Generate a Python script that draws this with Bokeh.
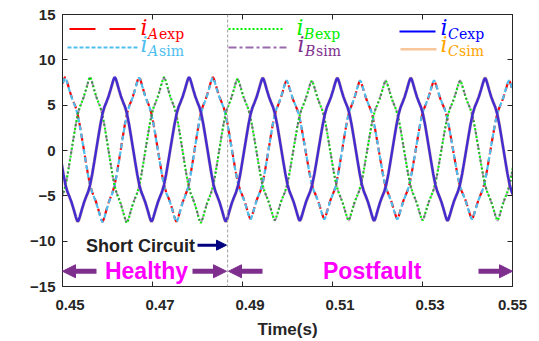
import numpy as np
from bokeh.plotting import figure
from bokeh.models import (Range1d, LinearAxis, FixedTicker, Span, Label, Arrow,
                          NormalHead, ColumnDataSource, CustomJSTickFormatter)
from bokeh.embed import file_html
from bokeh.resources import INLINE

# ---------------- data ----------------
# extrema (peak / trough) times in seconds and values in A for each phase
a_t = [0.44244, 0.45058, 0.45889, 0.46702, 0.47533, 0.48340, 0.49178, 0.49978,
       0.50818, 0.51613, 0.52440, 0.53258, 0.54100, 0.54924, 0.55740]
a_exp_v = [-7.85, 8.1, -7.85, 8.1, -7.85, 8.1, -7.55, 7.7, -7.55, 7.7, -7.55, 7.7, -7.55, 7.7, -7.55]
a_sim_v = [-7.9, 8.05, -7.9, 8.05, -7.9, 8.05, -7.6, 7.75, -7.6, 7.75, -7.6, 7.75, -7.6, 7.75, -7.6]

b_t = [0.44791, 0.45613, 0.46429, 0.47258, 0.48073, 0.48889, 0.49718, 0.50540,
       0.51356, 0.52184, 0.53000, 0.53836, 0.54667, 0.55473]
b_exp_v = [-8.0, 8.1, -8.0, 8.1, -8.0, 7.9, -7.7, 7.7, -7.7, 7.7, -7.7, 7.7, -7.7, 7.7]
b_sim_v = [-7.95, 8.05, -7.95, 8.05, -7.95, 7.95, -7.75, 7.75, -7.75, 7.75, -7.75, 7.75, -7.75, 7.75]

c_t = [0.44518, 0.45340, 0.46162, 0.46978, 0.47813, 0.48629, 0.49451, 0.50273,
       0.51107, 0.51924, 0.52740, 0.53556, 0.54391, 0.55207]
c_exp_v = [8.1, -7.85, 8.1, -7.85, 8.1, -7.85, 8.0, -7.75, 8.0, -7.75, 8.0, -7.75, 8.0, -7.75]
c_sim_v = [8.05, -7.9, 8.05, -7.9, 8.05, -7.9, 8.05, -7.8, 8.05, -7.8, 8.05, -7.8, 8.05, -7.8]

# quarter-wave shape (angle from zero crossing in degrees, fraction of peak)
shape_deg = [0, 10, 20, 30, 40, 50, 60, 70, 80, 85, 90]
shape_val = [0.0, 0.175, 0.345, 0.49, 0.59, 0.66, 0.735, 0.83, 0.93, 0.975, 1.0]

fault_time = 0.4867

x_ticks = [0.45, 0.47, 0.49, 0.51, 0.53, 0.55]
x_tick_labels = ["0.45", "0.47", "0.49", "0.51", "0.53", "0.55"]
y_ticks = [-15, -10, -5, 0, 5, 10, 15]

# ---------------- build polylines between read extrema ----------------
full_deg = [-d for d in reversed(shape_deg[1:])] + shape_deg
full_val = [-v for v in reversed(shape_val[1:])] + shape_val


def build(ts, vs):
    xs, ys = [], []
    for k in range(len(ts) - 1):
        t0, t1, v0, v1 = ts[k], ts[k + 1], vs[k], vs[k + 1]
        mid, half = (v0 + v1) / 2.0, (v1 - v0) / 2.0
        for j, (d, f) in enumerate(zip(full_deg, full_val)):
            if k > 0 and j == 0:
                continue
            xs.append(t0 + (d + 90.0) / 180.0 * (t1 - t0))
            ys.append(mid + half * f)
    return xs, ys


RED, LBLUE, GREEN, PURPLE, BLUE, ORANGE = "#ff0000", "#4dbeee", "#00ee00", "#7e2f8e", "#0000ff", "#ffa500"
AX = "#262626"
FONT = "Liberation Sans"
PX_PER_S = 4500.0   # frame width 450 px for 0.1 s
PX_PER_A = 9.1      # frame height 273 px for 30 A
X_MIN, X_MAX = 0.45, 0.55

p = figure(width=539, height=341, output_backend="svg", toolbar_location=None,
           x_range=Range1d(X_MIN, X_MAX), y_range=Range1d(-15, 15),
           min_border_left=62, min_border_right=27, min_border_top=14, min_border_bottom=54)
p.xgrid.visible = False
p.ygrid.visible = False
p.background_fill_color = "white"
p.border_fill_color = "white"
p.outline_line_color = AX

series = [
    (a_t, a_exp_v, dict(line_color=RED, line_width=2.2, line_dash="7 4")),
    (a_t, a_sim_v, dict(line_color=LBLUE, line_width=2.2, line_dash="5 3")),
    (b_t, b_exp_v, dict(line_color=GREEN, line_width=2.2, line_dash="2 2")),
    (b_t, b_sim_v, dict(line_color=PURPLE, line_width=1.8, line_dash="6 3 2 3", line_alpha=0.55)),
    (c_t, c_exp_v, dict(line_color=BLUE, line_width=2.6)),
    (c_t, c_sim_v, dict(line_color="#f5a050", line_width=3.6, line_alpha=0.28)),
]
for ts, vs, style in series:
    xs, ys = build(ts, vs)
    p.line(x="x", y="y", source=ColumnDataSource(dict(x=xs, y=ys)), **style)

# fault instant
p.add_layout(Span(location=fault_time, dimension="height", line_color="#a0a0a0",
                  line_width=1, line_dash="3 2"))

# ---------------- axes ----------------
blank = CustomJSTickFormatter(code="return ''")

# bottom axis: labels sit ~7.5 px right of their ticks in the picture
label_shift = 7.5 / PX_PER_S
shifted = [min(t + label_shift, X_MAX) for t in x_ticks]
xa = p.xaxis[0]
xa.ticker = FixedTicker(ticks=shifted)
xa.formatter = CustomJSTickFormatter(
    args=dict(pos=shifted, labels=x_tick_labels),
    code="for (let i = 0; i < pos.length; i++) { if (Math.abs(pos[i] - tick) < 1e-7) return labels[i]; } return '';")
xa.axis_line_color = AX
xa.major_tick_line_color = None
xa.minor_tick_line_color = None
xa.major_tick_in = 0
xa.major_tick_out = 0
xa.major_label_text_font = FONT
xa.major_label_text_font_style = "bold"
xa.major_label_text_font_size = "15px"
xa.major_label_text_color = AX
xa.major_label_standoff = 13
xa.axis_label = "Time(s)"
xa.axis_label_text_font = FONT
xa.axis_label_text_font_style = "bold"
xa.axis_label_text_font_size = "17px"
xa.axis_label_text_color = AX
xa.axis_label_standoff = 7

# inward bottom ticks at the real tick positions
for t in x_ticks:
    p.add_layout(Arrow(end=None, x_start=t, x_end=t, y_start=-15, y_end=-15 + 5 / PX_PER_A,
                       line_color=AX, line_width=1))

ya_ = p.yaxis[0]
ya_.ticker = FixedTicker(ticks=y_ticks)
ya_.axis_line_color = AX
ya_.major_tick_line_color = AX
ya_.major_tick_in = 5
ya_.major_tick_out = 0
ya_.minor_tick_line_color = None
ya_.major_label_text_font = FONT
ya_.major_label_text_font_style = "bold"
ya_.major_label_text_font_size = "15px"
ya_.major_label_text_color = AX
ya_.major_label_standoff = 7

top_ax = LinearAxis(ticker=FixedTicker(ticks=x_ticks), formatter=blank)
right_ax = LinearAxis(ticker=FixedTicker(ticks=y_ticks), formatter=blank)
for ax in (top_ax, right_ax):
    ax.axis_line_color = AX
    ax.major_tick_line_color = AX
    ax.major_tick_in = 5
    ax.major_tick_out = 0
    ax.minor_tick_line_color = None
    ax.major_label_standoff = 0
p.add_layout(top_ax, "above")
p.add_layout(right_ax, "right")


# ---------------- annotations (positions in pixels of the 539x341 picture) ----------------
def tx(px):
    return X_MIN + (px - 62) / PX_PER_S


def vy(py):
    return (150.5 - py) / PX_PER_A


p.add_layout(Label(x=tx(17), y=vy(118.5), text="Three phase currents(A)", angle=np.pi / 2,
                   text_align="center", text_baseline="middle", text_font=FONT,
                   text_font_style="bold", text_font_size="13px", text_color=AX))

# legend
legend_rows = [
    # (line x0, x1, y, color, dash, width, alpha, i_x, letter, rest, text color, row)
    (69, 137, 28.5, RED, "26 14", 2, 1.0, 140, "A", "exp", RED, 0),
    (67, 137, 47, LBLUE, "4 2", 2, 1.0, 140, "A", "sim", LBLUE, 1),
    (228, 282, 28.5, GREEN, "2 2", 2, 1.0, 296, "B", "exp", GREEN, 0),
    (228, 286, 47, "#9a6aae", "8 3 3 3", 2, 1.0, 297, "B", "sim", PURPLE, 1),
    (399, 435, 31, BLUE, "solid", 2, 1.0, 440, "C", "exp", BLUE, 0),
    (400, 436, 49, "#f5a05a", "solid", 2.5, 0.6, 440, "C", "sim", ORANGE, 1),
]
for x0, x1, yl, col, dash, lw, la, ix, letter, rest, tcol, row in legend_rows:
    p.add_layout(Arrow(end=None, x_start=tx(x0), x_end=tx(x1), y_start=vy(yl), y_end=vy(yl),
                       line_color=col, line_width=lw, line_dash=dash, line_alpha=la))
    im = 27.5 if row == 0 else 44.5
    sm = 34 if row == 0 else 50.5
    p.add_layout(Label(x=tx(ix), y=vy(im), text="i", text_font="DejaVu Serif",
                       text_font_style="italic", text_font_size="22px", text_color=tcol,
                       text_baseline="middle", text_align="left"))
    p.add_layout(Label(x=tx(ix + 7.5), y=vy(sm), text=letter, text_font="DejaVu Serif",
                       text_font_style="italic", text_font_size="14px", text_color=tcol,
                       text_baseline="middle", text_align="left"))
    p.add_layout(Label(x=tx(ix + 18.5), y=vy(sm), text=rest, text_font="DejaVu Serif",
                       text_font_size="14px", text_color=tcol,
                       text_baseline="middle", text_align="left"))

# short circuit marker
NAVY = "#000080"
p.add_layout(Label(x=tx(140), y=vy(246), text="Short Circuit", text_align="center",
                   text_baseline="middle", text_font=FONT, text_font_style="bold",
                   text_font_size="18px", text_color="#222222"))
p.add_layout(Arrow(end=NormalHead(size=10, fill_color=NAVY, line_color=NAVY),
                   x_start=tx(197), y_start=vy(245.5), x_end=tx(226), y_end=vy(245.5),
                   line_color=NAVY, line_width=3))

# healthy / postfault
ARW = "#7e2f8e"
yarr = vy(271.7)
for xs_, xe_ in [(96, 62), (192, 226), (262, 228), (478, 512)]:
    p.add_layout(Arrow(end=NormalHead(size=13, fill_color=ARW, line_color=ARW),
                       x_start=tx(xs_), y_start=yarr, x_end=tx(xe_), y_end=yarr,
                       line_color=ARW, line_width=5))
p.add_layout(Label(x=tx(146), y=vy(271.3), text="Healthy", text_align="center",
                   text_baseline="middle", text_font=FONT, text_font_style="bold",
                   text_font_size="23px", text_color="#ff00ff"))
p.add_layout(Label(x=tx(371.7), y=vy(271.8), text="Postfault", text_align="center",
                   text_baseline="middle", text_font=FONT, text_font_style="bold",
                   text_font_size="23px", text_color="#ff00ff"))

open("out.html", "w").write(file_html(p, INLINE))
